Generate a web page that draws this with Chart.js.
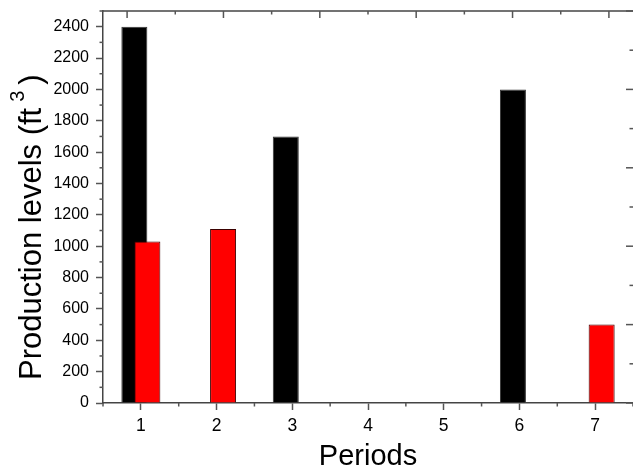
<!DOCTYPE html>
<html>
<head>
<meta charset="utf-8">
<script src="https://cdn.jsdelivr.net/npm/chart.js@4.4.1/dist/chart.umd.min.js"></script>
<style>
  html, body { margin: 0; padding: 0; background: #fff; }
</style>
</head>
<body>
<canvas id="chart" width="633" height="474"></canvas>
<script>
const periods = ['1', '2', '3', '4', '5', '6', '7'];
const blackLevels = [2400, null, 1700, null, null, 2000, null];
const redLevels = [1030, 1110, null, null, null, null, 500];
const yTicks = [0, 200, 400, 600, 800, 1000, 1200, 1400, 1600, 1800, 2000, 2200, 2400];

const FONT = 'Liberation Sans, Arial, sans-serif';

function line(ctx, x1, y1, x2, y2) {
    ctx.beginPath();
    ctx.moveTo(x1, y1);
    ctx.lineTo(x2, y2);
    ctx.stroke();
}

// red bars sit on top of the black ones
const redOnTop = {
    id: 'redOnTop',
    beforeDatasetDraw(chart, args) {
        if (args.index === 1) return false;
    },
    afterDatasetsDraw(chart) {
        const a = chart.chartArea;
        const ctx = chart.ctx;
        ctx.save();
        ctx.beginPath();
        ctx.rect(a.left, a.top, a.right - a.left, a.bottom - a.top);
        ctx.clip();
        chart.getDatasetMeta(1).controller.draw();
        ctx.restore();
    }
};

// top line, minor ticks, mirrored ticks and the y title
const frame = {
    id: 'frame',
    afterDraw(chart) {
        const { ctx, chartArea: a, scales } = chart;
        ctx.save();
        ctx.strokeStyle = '#444';
        ctx.lineWidth = 1.5;
        line(ctx, a.left, a.top, a.right, a.top);

        ctx.strokeStyle = '#555';
        for (let v = 100; v <= 2500; v += 200) {
            const y = scales.y.getPixelForValue(v);
            line(ctx, a.left - 3.5, y, a.left, y);
        }
        for (let i = -0.5; i < periods.length; i++) {
            const x = scales.x.getPixelForValue(i);
            line(ctx, x, a.bottom, x, a.bottom + 3.5);
        }
        for (let v = 0; v <= 10; v++) {
            const x = scales.xTop.getPixelForValue(v);
            line(ctx, x, a.top, x, a.top + (v % 2 ? 3.5 : 7));
            const y = scales.yRight.getPixelForValue(v);
            line(ctx, a.right - (v % 2 ? 3.5 : 7), y, a.right, y);
        }

        // y axis title with superscript
        ctx.fillStyle = '#000';
        ctx.translate(41, 380);
        ctx.rotate(-Math.PI / 2);
        ctx.textAlign = 'left';
        ctx.textBaseline = 'alphabetic';
        ctx.font = '31px ' + FONT;
        const main = 'Production levels (ft';
        ctx.fillText(main, 0, 0);
        let x = ctx.measureText(main).width + 6;
        ctx.font = '20px ' + FONT;
        ctx.fillText('3', x, -17);
        x += ctx.measureText('3').width + 6;
        ctx.font = '31px ' + FONT;
        ctx.fillText(')', x, 0);
        ctx.restore();
    }
};

new Chart(document.getElementById('chart'), {
    type: 'bar',
    data: {
        labels: periods,
        datasets: [{
            label: 'Black',
            data: blackLevels,
            backgroundColor: '#000000',
            borderColor: '#333333',
            borderWidth: 1,
            categoryPercentage: 0.3435,
            barPercentage: 2.0
        }, {
            label: 'Red',
            data: redLevels,
            backgroundColor: '#ff0000',
            borderColor: '#3a0000',
            borderWidth: 1,
            categoryPercentage: 0.3435,
            barPercentage: 2.0
        }]
    },
    options: {
        responsive: false,
        animation: false,
        devicePixelRatio: 1,
        layout: { padding: { top: 11, right: 0, left: 0, bottom: 0 } },
        plugins: {
            legend: { display: false },
            tooltip: { enabled: false }
        },
        scales: {
            x: {
                type: 'category',
                offset: true,
                grid: { offset: false, drawOnChartArea: false, drawTicks: true, tickLength: 7, tickColor: '#555', tickWidth: 1.5 },
                border: { color: '#444', width: 1.5 },
                ticks: { color: '#000', font: { family: FONT, size: 17.5 }, padding: 6, maxRotation: 0 },
                title: { display: true, text: 'Periods', color: '#000', font: { family: FONT, size: 29 }, padding: { top: 0, bottom: 0 } },
                afterFit(s) { s.height = 71; }
            },
            y: {
                min: 0,
                max: 2500,
                afterBuildTicks(s) { s.ticks = yTicks.map(v => ({ value: v })); },
                grid: { drawOnChartArea: false, drawTicks: true, tickLength: 7, tickColor: '#555', tickWidth: 1.5 },
                border: { color: '#444', width: 1.5 },
                ticks: { color: '#000', font: { family: FONT, size: 16 }, padding: 7, callback: v => String(v) },
                afterFit(s) {
                    s.width = 103;
                    s.paddingTop = 0;
                    s.paddingBottom = 0;
                }
            },
            xTop: { type: 'linear', position: 'top', display: false, min: 0, max: 10 },
            yRight: { type: 'linear', position: 'right', display: false, min: 0, max: 10 }
        }
    },
    plugins: [redOnTop, frame]
});
</script>
</body>
</html>
